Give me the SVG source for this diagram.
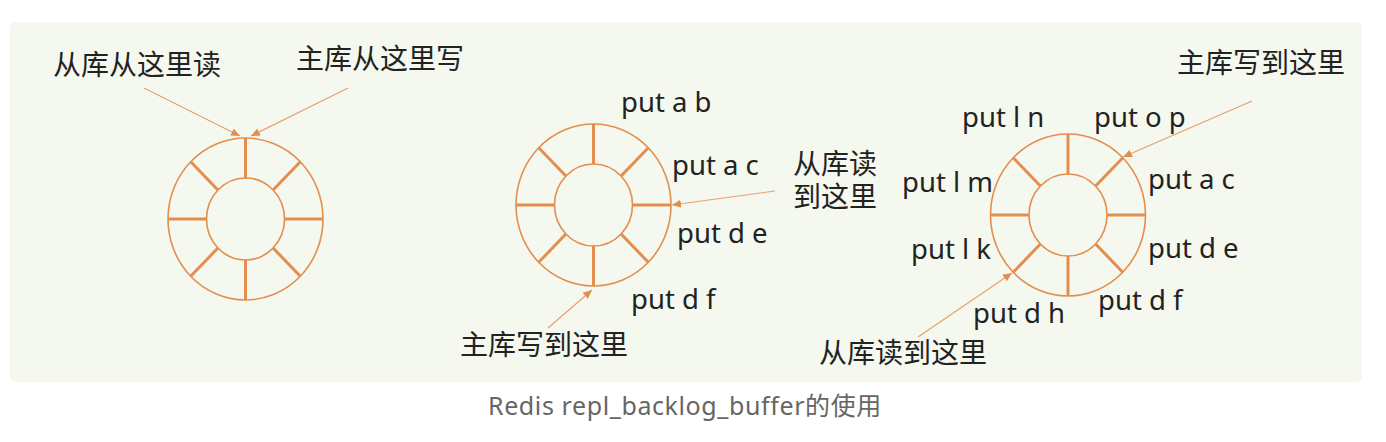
<svg xmlns="http://www.w3.org/2000/svg" xmlns:xlink="http://www.w3.org/1999/xlink" width="1386" height="442" viewBox="0 0 1386 442">
<style>
.ring{fill:none;stroke:#E48E4E;stroke-width:1.6}
.spoke{stroke:#E48E4E;stroke-width:3;stroke-linecap:butt}
.lbl{font-family:"Noto Sans","Noto Sans CJK SC",sans-serif;font-size:27.5px;fill:#222}
.cjk{font-family:"Noto Sans CJK SC","Noto Sans",sans-serif;font-size:28px;fill:#222}
.cap{font-family:"Noto Sans","Noto Sans CJK SC",sans-serif;font-size:25px;letter-spacing:0.6px;fill:#666}
.arr{stroke:#E9A06C;stroke-width:1.2;fill:none;marker-end:url(#ah)}
</style>
<defs>
<marker id="ah" markerUnits="userSpaceOnUse" markerWidth="10" markerHeight="10" viewBox="0 0 10 10" refX="9" refY="5" orient="auto">
<path d="M0,1 L9,5 L0,9 Z" fill="#E48E4E"/>
</marker>
<g id="buf">
<ellipse class="ring" rx="77.5" ry="81"/>
<ellipse class="ring" rx="39" ry="41"/>
<line class="spoke" x1="39" y1="0" x2="77.5" y2="0"/>
<line class="spoke" x1="-39" y1="0" x2="-77.5" y2="0"/>
<line class="spoke" x1="0" y1="41" x2="0" y2="81"/>
<line class="spoke" x1="0" y1="-41" x2="0" y2="-81"/>
<line class="spoke" x1="27.6" y1="29" x2="54.8" y2="57.3"/>
<line class="spoke" x1="-27.6" y1="29" x2="-54.8" y2="57.3"/>
<line class="spoke" x1="27.6" y1="-29" x2="54.8" y2="-57.3"/>
<line class="spoke" x1="-27.6" y1="-29" x2="-54.8" y2="-57.3"/>
</g>
</defs>
<rect x="0" y="0" width="1386" height="442" fill="#ffffff"/>
<rect x="10" y="22" width="1352" height="360" rx="6" fill="#F4F8EE"/>

<g id="buffer-empty">
<use xlink:href="#buf" href="#buf" x="245.5" y="219"/>
<text class="cjk" x="53" y="75">从库从这里读</text>
<text class="cjk" x="296" y="69">主库从这里写</text>
</g>

<g id="buffer-partial">
<use xlink:href="#buf" href="#buf" x="593.5" y="205"/>
<text class="lbl" x="621" y="112">put a b</text>
<text class="lbl" x="672" y="175">put a c</text>
<text class="lbl" x="677" y="243">put d e</text>
<text class="lbl" x="631" y="309">put d f</text>
<text class="cjk" x="793" y="174">从库读<tspan x="793" y="207">到这里</tspan></text>
<text class="cjk" x="460" y="355">主库写到这里</text>
</g>

<g id="buffer-wrapped">
<use xlink:href="#buf" href="#buf" x="1068" y="215"/>
<text class="cjk" x="1177" y="73">主库写到这里</text>
<text class="lbl" x="962" y="127">put l n</text>
<text class="lbl" x="1094" y="127">put o p</text>
<text class="lbl" x="902" y="192">put l m</text>
<text class="lbl" x="1148" y="189">put a c</text>
<text class="lbl" x="911" y="259">put l k</text>
<text class="lbl" x="1148" y="258">put d e</text>
<text class="lbl" x="973" y="323">put d h</text>
<text class="lbl" x="1098" y="310">put d f</text>
<text class="cjk" x="819" y="363">从库读到这里</text>
</g>

<g id="connectors">
<line class="arr" x1="144" y1="88" x2="240" y2="136"/>
<line class="arr" x1="348" y1="88" x2="251" y2="136"/>
<line class="arr" x1="775" y1="191" x2="672" y2="205"/>
<line class="arr" x1="548" y1="328" x2="592" y2="290"/>
<line class="arr" x1="1252" y1="101" x2="1123" y2="157"/>
<line class="arr" x1="918" y1="337" x2="1012" y2="273"/>
</g>

<text class="cap" x="488" y="415">Redis repl_backlog_buffer的使用</text>
</svg>
